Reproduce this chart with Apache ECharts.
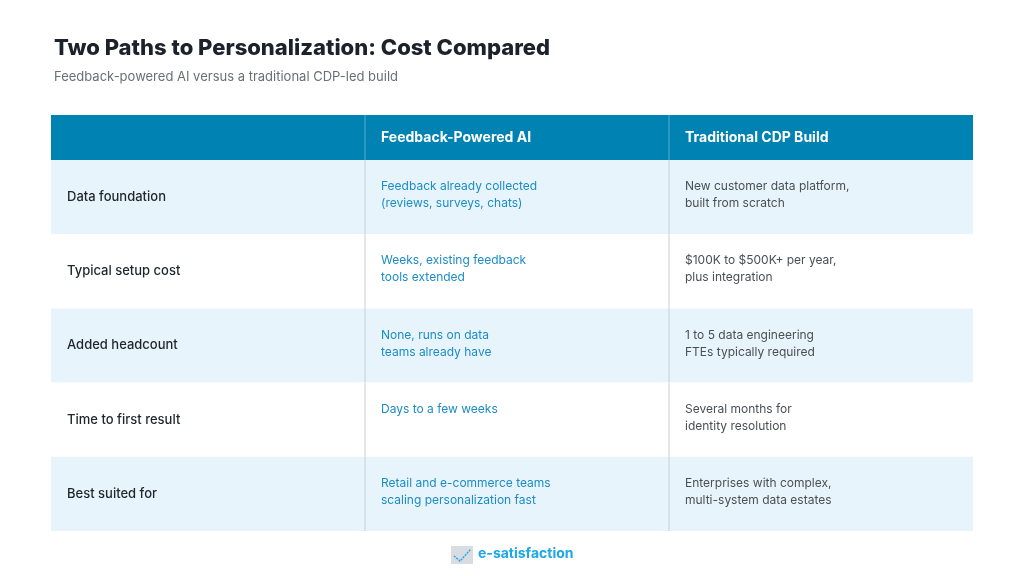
<!DOCTYPE html>
<html>
<head>
<meta charset="utf-8">
<script src="https://cdn.jsdelivr.net/npm/echarts@6/dist/echarts.min.js"></script>
<style>html,body{margin:0;background:#fff}#chart{width:1024px;height:576px}</style>
</head>
<body>
<div id="chart"></div>
<script>
// table contents
const headers = ['', 'Feedback-Powered AI', 'Traditional CDP Build'];
const rowLabels = ['Data foundation', 'Typical setup cost', 'Added headcount', 'Time to first result', 'Best suited for'];
const aiValues = [
    'Feedback already collected\n(reviews, surveys, chats)',
    'Weeks, existing feedback\ntools extended',
    'None, runs on data\nteams already have',
    'Days to a few weeks',
    'Retail and e-commerce teams\nscaling personalization fast'
];
const cdpValues = [
    'New customer data platform,\nbuilt from scratch',
    '$100K to $500K+ per year,\nplus integration',
    '1 to 5 data engineering\nFTEs typically required',
    'Several months for\nidentity resolution',
    'Enterprises with complex,\nmulti-system data estates'
];

// column edges and row edges in table units
const colEdges = [0, 314, 618, 922];
const rowEdges = [0, 45, 119.2, 193.4, 267.6, 341.8, 416];

const cells = [];
for (let c = 0; c < 3; c++) cells.push([0, c, headers[c]]);
rowLabels.forEach((lab, i) => {
    cells.push([i + 1, 0, lab]);
    cells.push([i + 1, 1, aiValues[i]]);
    cells.push([i + 1, 2, cdpValues[i]]);
});

const chart = echarts.init(document.getElementById('chart'));
const font = 'Inter, "Open Sans", sans-serif';

chart.setOption({
    backgroundColor: '#fff',
    title: {
        text: 'Two Paths to Personalization: Cost Compared',
        subtext: 'Feedback-powered AI versus a traditional CDP-led build',
        left: 49, top: 32, itemGap: 12,
        textStyle: { fontFamily: font, fontSize: 22, fontWeight: 800, color: '#1b222c' },
        subtextStyle: { fontFamily: font, fontSize: 13, color: '#6b6f75' }
    },
    grid: { left: 51, right: 51, top: 115, bottom: 45 },
    xAxis: { type: 'value', min: 0, max: 922, show: false },
    yAxis: { type: 'value', min: 0, max: 416, inverse: true, show: false },
    graphic: [
        {
            type: 'group', left: 451, top: 546,
            children: [
                { type: 'rect', shape: { x: 0, y: 0, width: 22, height: 18 }, style: { fill: '#d9dde2' } },
                { type: 'polyline', shape: { points: [[3, 10], [9, 15], [20, 3]] }, style: { stroke: '#29a8e6', lineWidth: 1.5, fill: null, lineDash: [2, 1] } },
                { type: 'text', x: 27, y: 1, style: { text: 'e-satisfaction', fill: '#1ca7e6', font: 'bold 14px ' + font } }
            ]
        }
    ],
    series: [{
        type: 'custom',
        data: cells,
        renderItem: function (params, api) {
            const r = api.value(0), c = api.value(1);
            const text = cells[params.dataIndex][2];
            const p0 = api.coord([colEdges[c], rowEdges[r]]);
            const p1 = api.coord([colEdges[c + 1], rowEdges[r + 1]]);
            const w = p1[0] - p0[0], h = p1[1] - p0[1];
            let fill, txtColor, weight, size = 12, va = 'top', ty = p0[1] + 18;
            if (r === 0) {
                fill = '#0082b3'; txtColor = '#fff'; weight = 'bold'; size = 14; va = 'middle'; ty = p0[1] + h / 2;
            } else {
                fill = r % 2 === 1 ? '#e8f4fb' : '#ffffff';
                if (c === 0) { txtColor = '#1f252c'; weight = 500; size = 13; va = 'middle'; ty = p0[1] + h / 2; }
                else if (c === 1) { txtColor = '#1b8cc6'; weight = 'normal'; }
                else { txtColor = '#4a4f55'; weight = 'normal'; }
            }
            const children = [
                { type: 'rect', shape: { x: p0[0], y: p0[1], width: w, height: h }, style: { fill: fill } }
            ];
            if (c > 0) {
                children.push({ type: 'line', shape: { x1: p0[0], y1: p0[1], x2: p0[0], y2: p1[1] },
                    style: { stroke: r === 0 ? 'rgba(255,255,255,0.35)' : '#c9ced3', lineWidth: 1 } });
            }
            children.push({ type: 'text', x: p0[0] + 16, y: ty,
                style: { text: text, fill: txtColor, fontFamily: font, fontSize: size, fontWeight: weight,
                    verticalAlign: va, lineHeight: 17 } });
            return { type: 'group', children: children };
        }
    }]
});
</script>
</body>
</html>
